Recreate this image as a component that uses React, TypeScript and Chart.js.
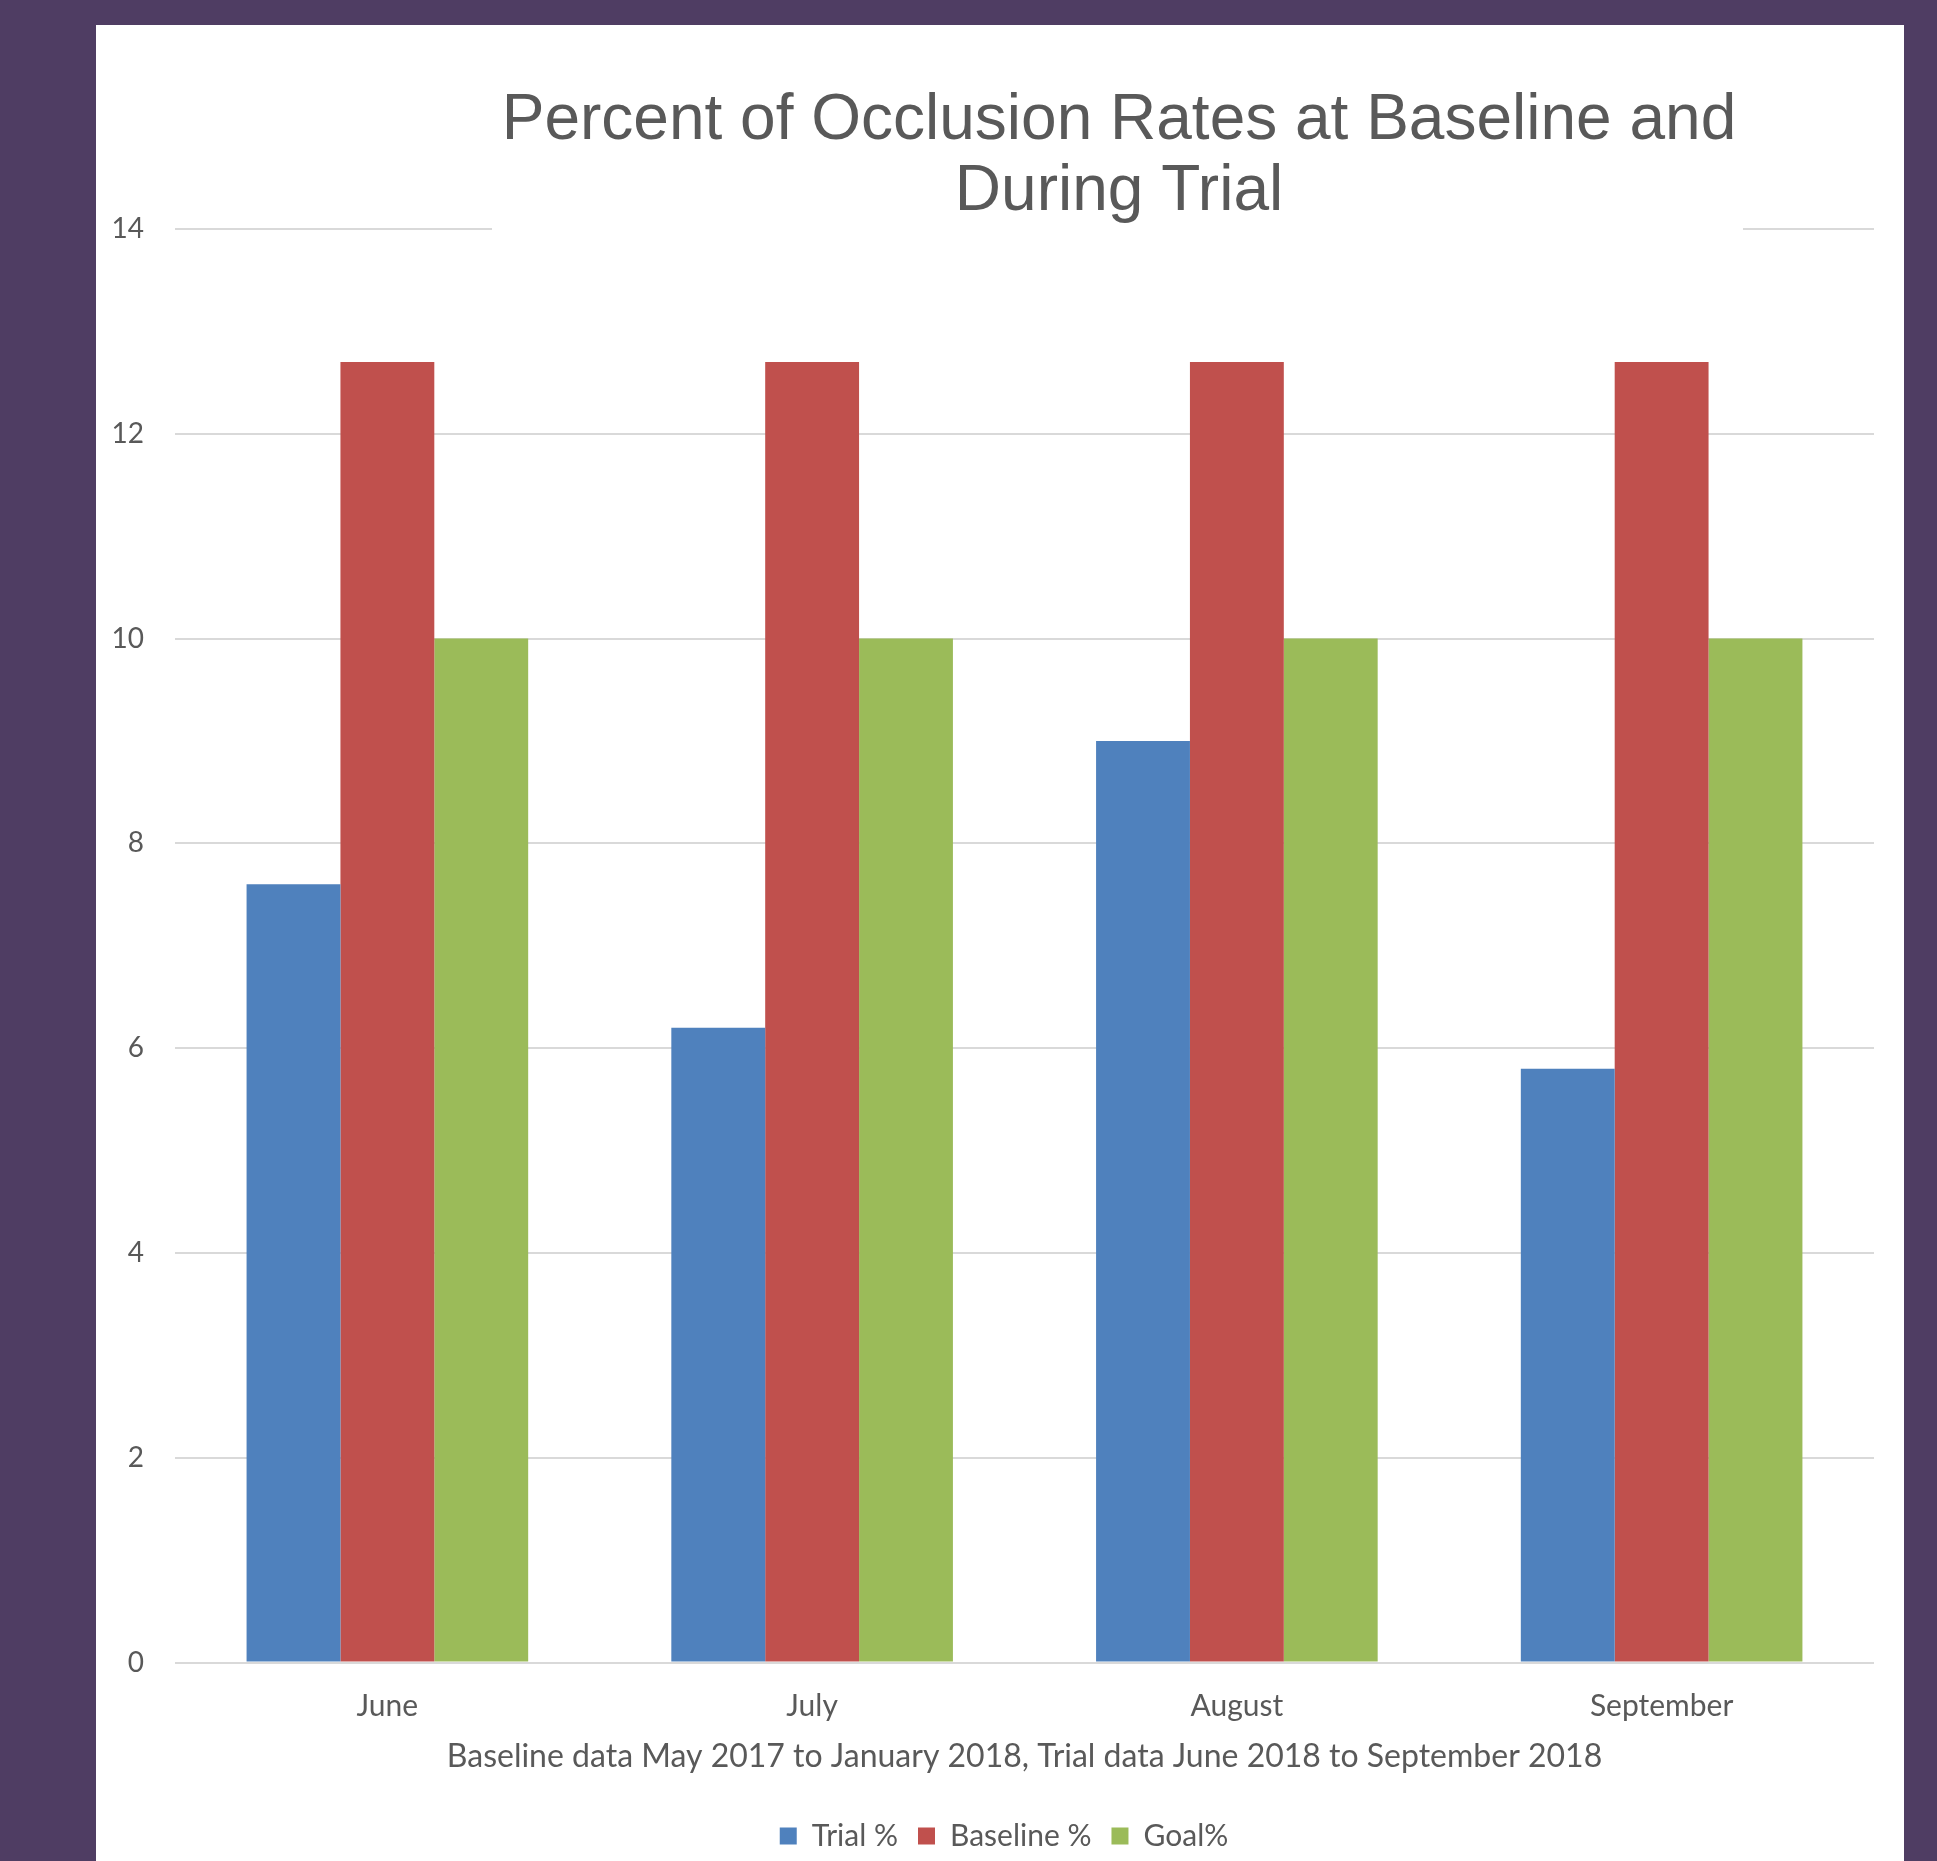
import React, { useEffect, useRef } from "react";
import { Chart, registerables } from "chart.js";

Chart.register(...registerables);

const categories = ["June", "July", "August", "September"];
const trialValues = [7.6, 6.2, 9.0, 5.8];
const baselineValues = [12.7, 12.7, 12.7, 12.7];
const goalValues = [10, 10, 10, 10];
const seriesNames = ["Trial %", "Baseline %", "Goal%"];
const titleLines = ["Percent of Occlusion Rates at Baseline and", "During Trial"];
const xAxisTitle = "Baseline data May 2017 to January 2018, Trial data June 2018 to September 2018";

const TEXT = "#595959";
const GRID = "#d9d9d9";
const BODY_FONT = "Lato, 'Noto Sans', sans-serif";

const titlePlugin = {
  id: "overlapTitle",
  afterDraw(chart: any) {
    const ctx = chart.ctx;
    ctx.save();
    ctx.fillStyle = "#ffffff";
    ctx.fillRect(396, 0, 1251, 208);
    ctx.fillStyle = TEXT;
    ctx.font = "64px 'Liberation Sans', Arial, sans-serif";
    ctx.textAlign = "center";
    ctx.textBaseline = "middle";
    ctx.fillText(titleLines[0], 1023, 96);
    ctx.fillText(titleLines[1], 1023, 167);
    ctx.restore();
  },
};

export default function App() {
  const ref = useRef<HTMLCanvasElement | null>(null);
  useEffect(() => {
    document.body.style.margin = "0";
    if (!ref.current) return;
    const chart = new Chart(ref.current, {
      type: "bar",
      data: {
        labels: categories,
        datasets: [
          { label: seriesNames[0], data: trialValues, backgroundColor: "#4f81bd" },
          { label: seriesNames[1], data: baselineValues, backgroundColor: "#c0504d" },
          { label: seriesNames[2], data: goalValues, backgroundColor: "#9bbb59" },
        ],
      },
      options: {
        responsive: false,
        animation: false,
        layout: { padding: { top: 204, left: 8, right: 0, bottom: 0 } },
        datasets: { bar: { categoryPercentage: 0.663, barPercentage: 1 } },
        scales: {
          x: {
            grid: { display: false, drawTicks: false },
            border: { display: false },
            ticks: { color: TEXT, font: { family: BODY_FONT, size: 30 }, padding: 26 },
            title: {
              display: true,
              text: xAxisTitle,
              color: TEXT,
              font: { family: BODY_FONT, size: 32 },
              padding: { top: -13, bottom: 25 },
            },
          },
          y: {
            min: 0,
            max: 14,
            ticks: { stepSize: 2, color: TEXT, font: { family: BODY_FONT, size: 28 }, padding: 31 },
            grid: { color: GRID, lineWidth: 2, drawTicks: false },
            border: { display: false },
            afterFit(scale: any) {
              scale.width = 71;
            },
          },
          yRight: {
            position: "right",
            display: true,
            grid: { display: false, drawTicks: false },
            ticks: { display: false },
            border: { display: false },
            afterFit(scale: any) {
              scale.width = 30;
            },
          },
        },
        plugins: {
          title: { display: false },
          tooltip: { enabled: false },
          legend: {
            position: "bottom",
            labels: {
              color: TEXT,
              font: { family: BODY_FONT, size: 30 },
              boxWidth: 17,
              boxHeight: 17,
              padding: 20,
            },
          },
        },
      },
      plugins: [titlePlugin],
    });
    return () => chart.destroy();
  }, []);

  return (
    <div style={{ width: 1937, height: 1861, background: "#4f3d63", position: "relative", overflow: "hidden" }}>
      <div style={{ position: "absolute", left: 96, top: 25, width: 1808, height: 1836, background: "#ffffff" }}>
        <canvas ref={ref} width={1808} height={1836} style={{ display: "block" }} />
      </div>
    </div>
  );
}
